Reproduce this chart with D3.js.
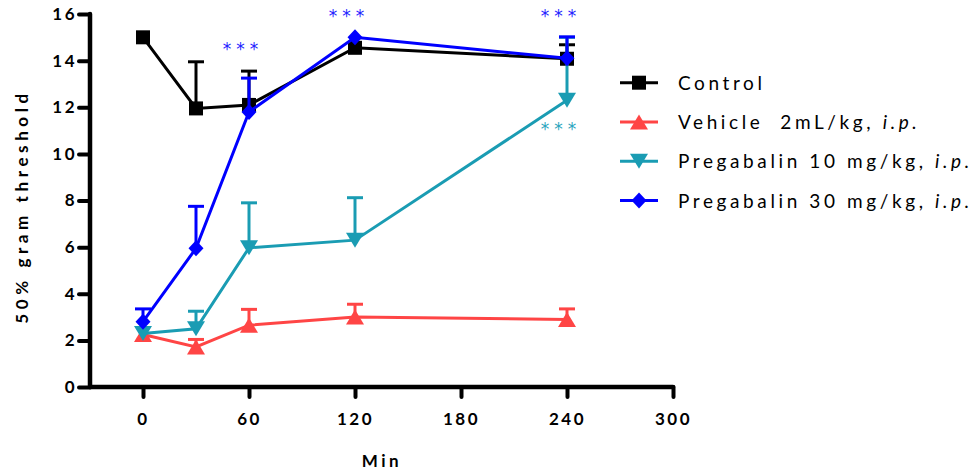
<!DOCTYPE html>
<html>
<head>
<meta charset="utf-8">
<script src="https://cdn.jsdelivr.net/npm/d3@7"></script>
<style>
  html, body { margin: 0; padding: 0; background: #fff; }
  svg { display: block; font-family: Lato, "Open Sans", sans-serif; }
</style>
</head>
<body>
<svg id="chart" width="975" height="474"></svg>
<script>
// ---- data ----
const times = [0, 30, 60, 120, 240];
const seriesNames = ["Control", "Vehicle  2mL/kg, i.p.", "Pregabalin 10 mg/kg, i.p.", "Pregabalin 30 mg/kg, i.p."];
const controlMean = [15.0, 11.95, 12.1, 14.55, 14.08];
const controlSem  = [0, 2.0, 1.45, 0, 0.6];
const vehicleMean = [2.25, 1.72, 2.65, 3.0, 2.9];
const vehicleSem  = [0, 0.32, 0.68, 0.55, 0.45];
const preg10Mean  = [2.3, 2.5, 5.97, 6.3, 12.3];
const preg10Sem   = [0, 0.75, 1.93, 1.82, 2.7];
const preg30Mean  = [2.8, 5.95, 11.8, 15.0, 14.1];
const preg30Sem   = [0.55, 1.8, 1.45, 0, 0.92];
const xTicks = [0, 60, 120, 180, 240, 300];
const yTicks = [0, 2, 4, 6, 8, 10, 12, 14, 16];
// significance annotations: time, value level, series index
const sigTimes  = [60, 120, 240, 240];
const sigLevels = [14.63, 16.04, 16.04, 11.2];
const sigSeries = [3, 3, 3, 2];

// ---- styles ----
const colors  = ["#000000", "#ff4545", "#1a9cb3", "#0000ff"];
const starColors = ["#000000", "#ff4545", "#2aa5bd", "#2323ff"];
const shapes  = ["square", "triUp", "triDown", "diamond"];

const svg = d3.select("#chart");
const x = d3.scaleLinear().domain([-30, 300]).range([90, 673]);
const y = d3.scaleLinear().domain([0, 16]).range([387, 14]);

// axes
const xAxis = d3.axisBottom(x).tickValues(xTicks).tickSize(10).tickPadding(16).tickFormat(d3.format("d"));
const yAxis = d3.axisLeft(y).tickValues(yTicks).tickSize(11).tickPadding(4).tickFormat(d3.format("d"));

const gx = svg.append("g").attr("transform", `translate(0,${y(0)})`).call(xAxis);
const gy = svg.append("g").attr("transform", `translate(${x(-30)},0)`).call(yAxis);
[gx, gy].forEach(g => {
  g.select(".domain").attr("stroke", "#000").attr("stroke-width", 4.5).attr("stroke-linecap", "round");
  g.selectAll(".tick line").attr("stroke", "#000").attr("stroke-width", 4).attr("stroke-linecap", "round");
  g.selectAll(".tick text").attr("fill", "#000").style("font-family", "Lato, sans-serif")
    .style("font-size", "17px").style("font-weight", "bold").style("letter-spacing", "2.5px");
});
gx.select(".domain").attr("d", `M${x(-30)},0H${x(300)}`);
gy.select(".domain").attr("d", `M0,${y(0)}V${y(16)}`);
gy.selectAll(".tick text").attr("dx", "2px");

// axis titles
svg.append("text").attr("x", 382).attr("y", 467).attr("text-anchor", "middle")
  .style("font-size", "17px").style("font-weight", "bold").style("letter-spacing", "3.5px").text("Min");
svg.append("text").attr("transform", `translate(28,${(y(0) + y(16)) / 2 + 6}) rotate(-90)`)
  .attr("text-anchor", "middle")
  .style("font-size", "17px").style("font-weight", "bold").style("letter-spacing", "4.6px").text("50% gram threshold");

// marker generator
function markerPath(shape) {
  switch (shape) {
    case "square":  return "M-7,-7H7V7H-7Z";
    case "triUp":   return "M0,-7.5L9,7.5H-9Z";
    case "triDown": return "M0,7.5L9,-7.5H-9Z";
    case "diamond": return "M0,-8L7.5,0L0,8L-7.5,0Z";
  }
}

const means = [controlMean, vehicleMean, preg10Mean, preg30Mean];
const sems  = [controlSem, vehicleSem, preg10Sem, preg30Sem];
const line = d3.line().x(d => x(d.t)).y(d => y(d.v));

means.forEach((m, si) => {
  const pts = times.map((t, i) => ({ t, v: m[i], e: sems[si][i] }));
  const g = svg.append("g");
  g.append("path").datum(pts).attr("d", line).attr("fill", "none")
    .attr("stroke", colors[si]).attr("stroke-width", 3);
  const eb = g.selectAll(".eb").data(pts.filter(p => p.e > 0)).enter().append("g");
  eb.append("line").attr("x1", p => x(p.t)).attr("x2", p => x(p.t))
    .attr("y1", p => y(p.v)).attr("y2", p => y(p.v + p.e))
    .attr("stroke", colors[si]).attr("stroke-width", 3);
  eb.append("line").attr("x1", p => x(p.t) - 8).attr("x2", p => x(p.t) + 8)
    .attr("y1", p => y(p.v + p.e)).attr("y2", p => y(p.v + p.e))
    .attr("stroke", colors[si]).attr("stroke-width", 3);
  g.selectAll(".mk").data(pts).enter().append("path")
    .attr("transform", p => `translate(${x(p.t)},${y(p.v)})`)
    .attr("d", markerPath(shapes[si])).attr("fill", colors[si]);
});

// significance stars
sigTimes.forEach((t, i) => {
  svg.append("text").attr("x", x(t) - 6).attr("y", y(sigLevels[i]) + 9)
    .attr("text-anchor", "middle").attr("fill", starColors[sigSeries[i]])
    .style("font-family", "'DejaVu Sans', sans-serif")
    .style("font-size", "17px").style("letter-spacing", "5px").text("***");
});

// legend
const leg = svg.append("g");
seriesNames.forEach((name, i) => {
  const cy = 82.7 + i * 39.3;
  leg.append("line").attr("x1", 620).attr("x2", 658).attr("y1", cy).attr("y2", cy)
    .attr("stroke", colors[i]).attr("stroke-width", 3);
  leg.append("path").attr("transform", `translate(639,${cy})`).attr("d", markerPath(shapes[i])).attr("fill", colors[i]);
  const tx = leg.append("text").attr("x", 678).attr("y", cy + 7)
    .style("white-space", "pre")
    .style("font-size", "19px").style("letter-spacing", "3.6px").attr("fill", "#000");
  const m = name.match(/^(.*?)(i\.p\.)?$/);
  tx.append("tspan").text(m[1]);
  if (m[2]) tx.append("tspan").style("font-style", "italic").text(m[2]);
});
</script>
</body>
</html>
